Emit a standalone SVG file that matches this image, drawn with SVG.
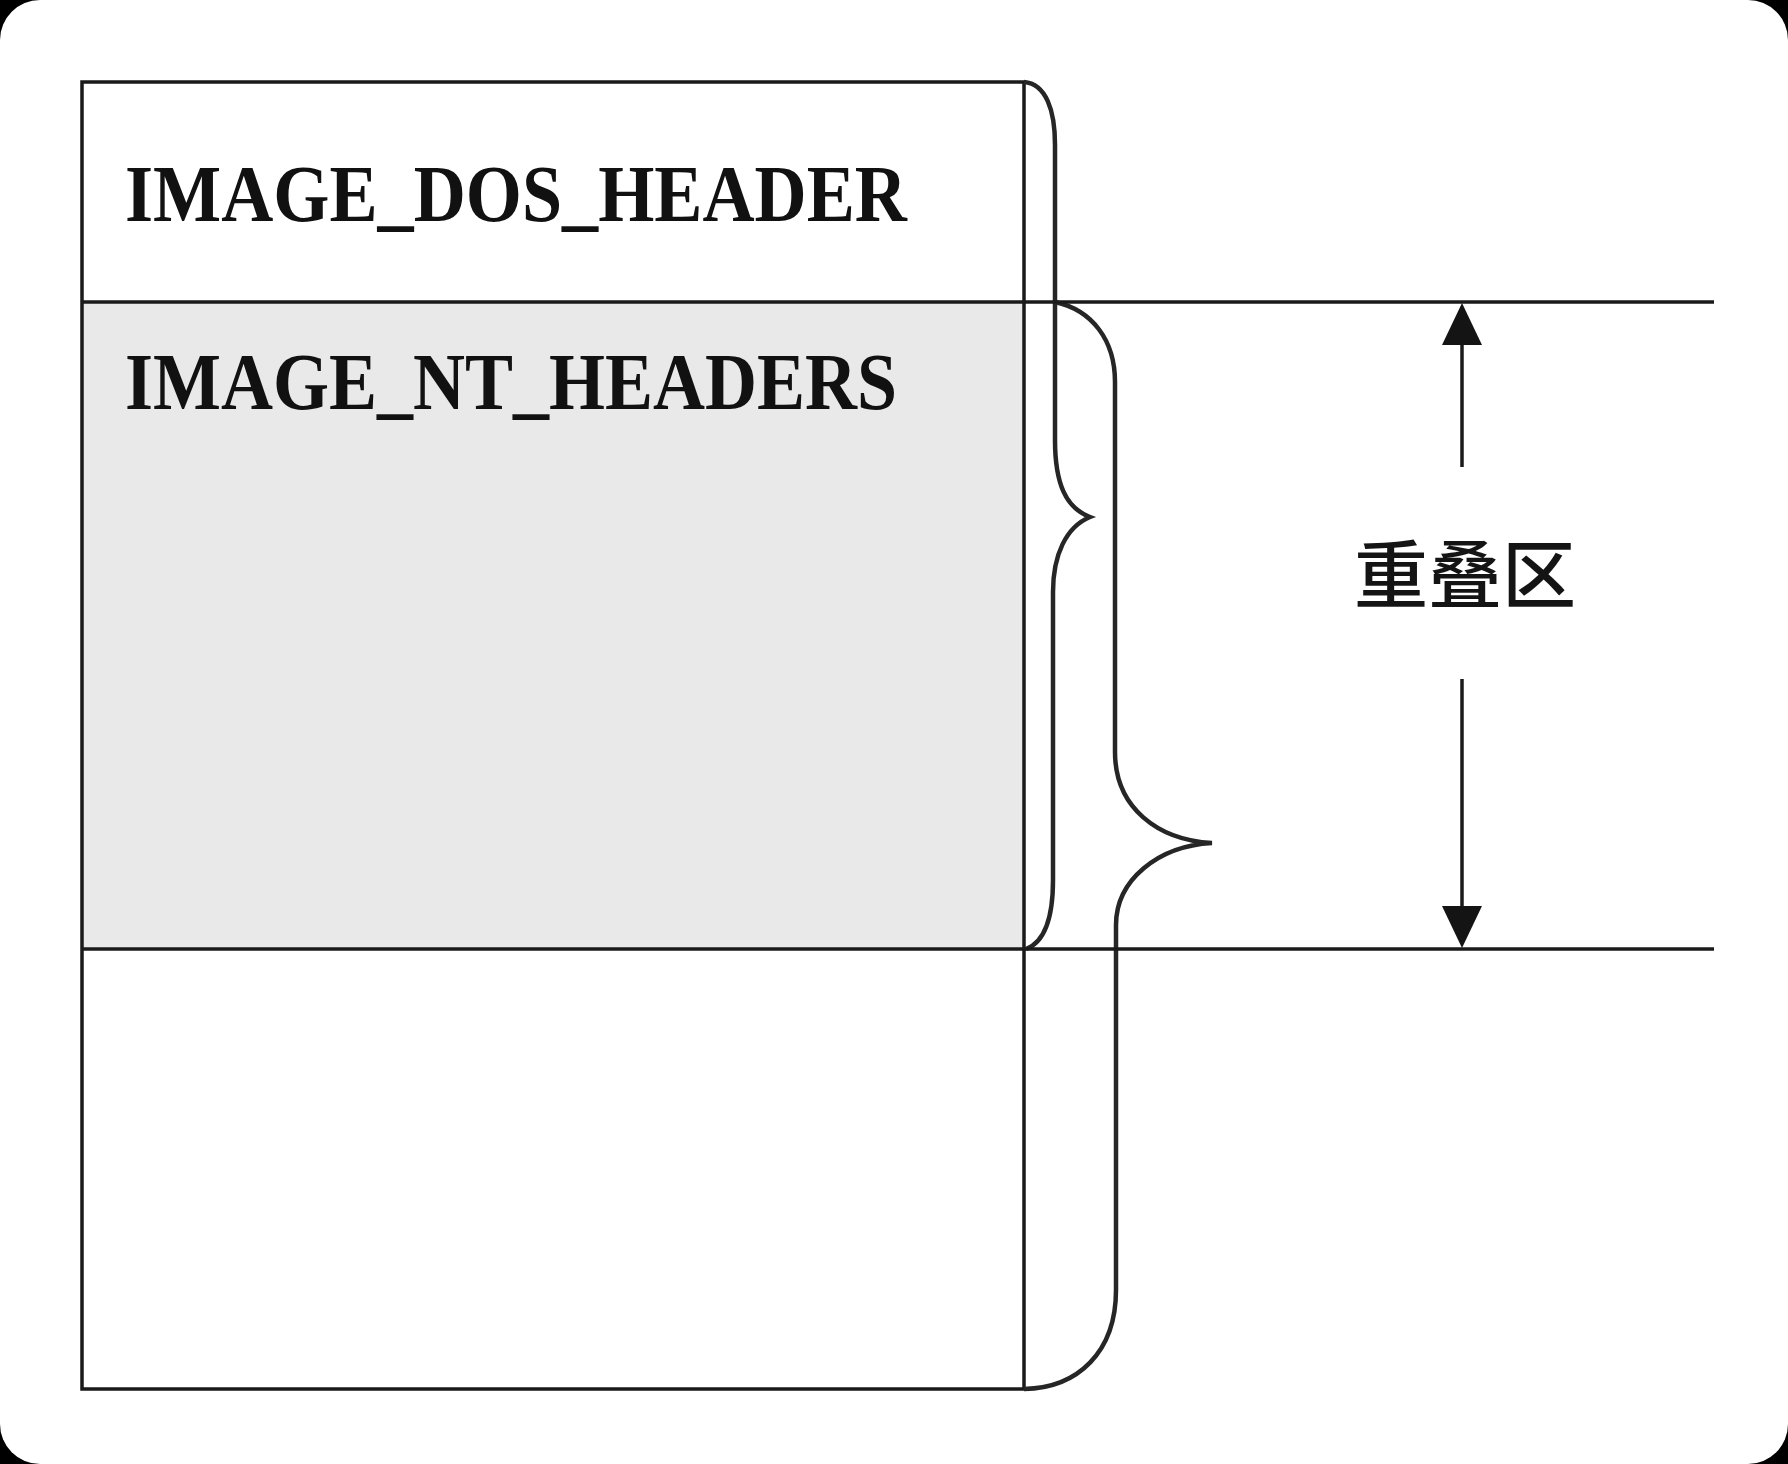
<svg xmlns="http://www.w3.org/2000/svg" width="1788" height="1464" viewBox="0 0 1788 1464">
  <style>
    .ln { stroke: #1a1a1a; stroke-width: 3.5; fill: none; }
    .br { stroke: #262626; stroke-width: 4.5; fill: none; stroke-linejoin: miter; }
    .lbl { font-family: "Liberation Serif", "Times New Roman", serif; font-weight: bold; font-size: 81px; fill: #111111; }
    .cjk { font-family: "Liberation Serif", "Noto Sans CJK SC", sans-serif; font-size: 74px; font-weight: 500; fill: #141414; }
    .head { fill: #141414; }
  </style>
  <rect x="0" y="0" width="1788" height="1464" fill="#000000"/>
  <rect x="0" y="0" width="1788" height="1464" rx="40" ry="40" fill="#ffffff"/>

  <g id="dos-header">
    <rect x="82" y="82" width="942" height="220" fill="#ffffff"/>
    <text class="lbl" x="125" y="221" textLength="782" lengthAdjust="spacingAndGlyphs">IMAGE_DOS_HEADER</text>
  </g>
  <g id="nt-headers">
    <rect x="82" y="302" width="942" height="647" fill="#e9e9e9"/>
    <text class="lbl" x="125" y="409" textLength="772" lengthAdjust="spacingAndGlyphs">IMAGE_NT_HEADERS</text>
  </g>
  <g id="rest">
    <rect x="82" y="949" width="942" height="440" fill="#ffffff"/>
  </g>
  <g id="outline">
    <rect class="ln" x="82" y="82" width="942" height="1307"/>
  </g>

  <g id="brace-small">
    <path class="br" d="M 1024 82 C 1046 84, 1055 110, 1055 145 L 1055 440 C 1055 484, 1066 508, 1090 517 C 1066 527, 1053 555, 1053 592 L 1053 880 C 1053 918, 1045 942, 1026 949"/>
  </g>
  <g id="brace-large">
    <path class="br" d="M 1055 302 C 1092 310, 1115 340, 1115 382 L 1115 752 C 1115 808, 1158 840, 1212 843 C 1158 846, 1116 880, 1116 925 L 1116 1290 C 1116 1352, 1078 1388, 1024 1389"/>
  </g>

  <g id="overlap-label">
    <text class="cjk" x="1465" y="602" text-anchor="middle">重叠区</text>
  </g>

  <g id="connectors">
    <line class="ln" x1="82" y1="302" x2="1714" y2="302"/>
    <line class="ln" x1="82" y1="949" x2="1714" y2="949"/>
    <line class="ln" x1="1462" y1="340" x2="1462" y2="467" stroke-width="5"/>
    <polygon class="head" points="1462,303 1442,345 1482,345"/>
    <line class="ln" x1="1462" y1="679" x2="1462" y2="910" stroke-width="5"/>
    <polygon class="head" points="1442,906 1482,906 1462,948"/>
  </g>
</svg>
